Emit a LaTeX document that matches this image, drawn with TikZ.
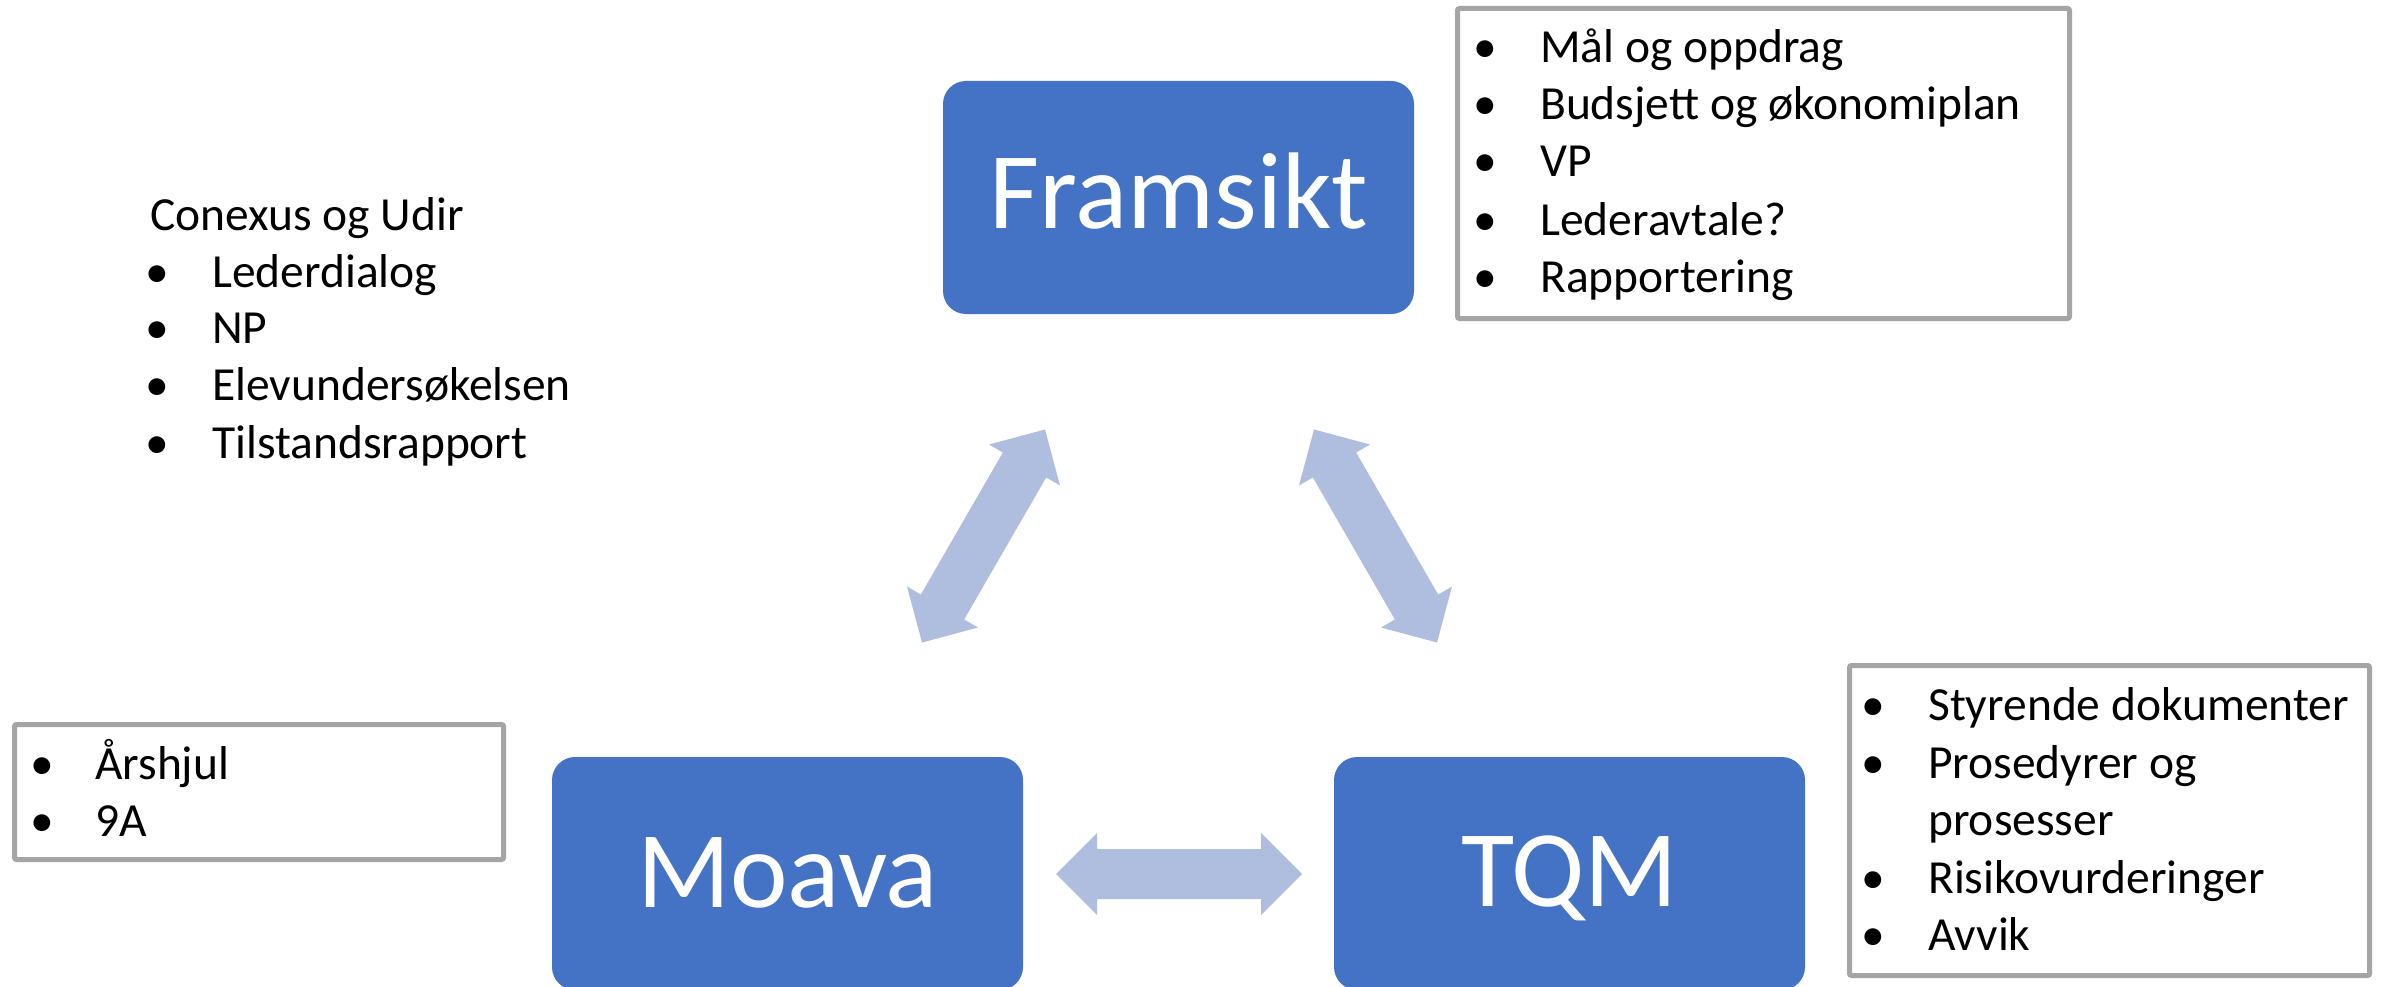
\documentclass[tikz,border=0pt]{standalone}
\usepackage{fontspec}
\setmainfont{Carlito}
\definecolor{boxblue}{HTML}{4472C4}
\definecolor{arrowblue}{HTML}{AFBDDF}
\definecolor{framegray}{HTML}{A5A5A5}
\newcommand\dblarrowpath{(-123,0) -- (-82,41) -- (-82,25) -- (82,25) -- (82,41) -- (123,0) -- (82,-41) -- (82,-25) -- (-82,-25) -- (-82,-41) -- cycle}
\tikzset{
  bluebox/.style={fill=boxblue, draw=none, rounded corners=23pt, minimum width=471pt, minimum height=233pt, inner sep=0pt},
  bigtext/.style={text=white, font=\fontsize{109}{131}\selectfont, anchor=base, inner sep=0pt},
  listbox/.style={draw=framegray, line width=5pt, fill=white, rounded corners=2pt, inner sep=0pt},
  itemtext/.style={font=\fontsize{47.5}{57}\selectfont, anchor=base west, inner sep=0pt},
  bulletdot/.style={font=\fontsize{47.5}{57}\selectfont, anchor=base, inner sep=0pt},
  blockarrow/.style={fill=arrowblue, draw=none},
}
\begin{document}
\begin{tikzpicture}[x=1pt, y=-1pt]
\useasboundingbox (0,0) rectangle (2387,987);
\clip (0,0) rectangle (2387,987);
\fill[white] (0,0) rectangle (2387,987);

% main boxes
\node[bluebox] (framsikt) at (1178.5,197.5) {};
\node[bluebox] (moava) at (787.5,873.5) {};
\node[bluebox] (tqm) at (1569.5,873.5) {};
\node[bigtext] (tframsikt) at (1178.5,229) {Framsikt};
\node[bigtext] (tmoava) at (787.5,907) {Moava};
\node[bigtext] (ttqm) at (1569.5,906) {TQM};

% block arrows
\coordinate (aleft) at (983.5,536);
\coordinate (aright) at (1375.5,536);
\coordinate (abottom) at (1179,874);
\begin{scope}[shift={(aleft)}, rotate=60]
  \fill[blockarrow] \dblarrowpath;
\end{scope}
\begin{scope}[shift={(aright)}, rotate=-60]
  \fill[blockarrow] \dblarrowpath;
\end{scope}
\begin{scope}[shift={(abottom)}]
  \fill[blockarrow] \dblarrowpath;
\end{scope}

% top-right list box
\node[listbox, minimum width=612pt, minimum height=310pt] (boxtr) at (1763.5,163.5) {};
\node[bulletdot] (btr1) at (1485,63) {•};
\node[itemtext] (ttr1) at (1540,63) {Mål og oppdrag};
\node[bulletdot] (btr2) at (1485,120) {•};
\node[itemtext] (ttr2) at (1540,120) {Budsjett og økonomiplan};
\node[bulletdot] (btr3) at (1485,177) {•};
\node[itemtext] (ttr3) at (1540,177) {VP};
\node[bulletdot] (btr4) at (1485,235) {•};
\node[itemtext] (ttr4) at (1540,235) {Lederavtale?};
\node[bulletdot] (btr5) at (1485,292) {•};
\node[itemtext] (ttr5) at (1540,292) {Rapportering};

% left free text
\node[itemtext] (tl0) at (150,230) {Conexus og Udir};
\node[bulletdot] (bl1) at (157,287) {•};
\node[itemtext] (tl1) at (212,287) {Lederdialog};
\node[bulletdot] (bl2) at (157,343) {•};
\node[itemtext] (tl2) at (212,343) {NP};
\node[bulletdot] (bl3) at (157,400) {•};
\node[itemtext] (tl3) at (212,400) {Elevundersøkelsen};
\node[bulletdot] (bl4) at (157,458) {•};
\node[itemtext] (tl4) at (212,458) {Tilstandsrapport};

% bottom-left list box
\node[listbox, minimum width=489pt, minimum height=135pt] (boxbl) at (259,792) {};
\node[bulletdot] (bbl1) at (42,779) {•};
\node[itemtext] (tbl1) at (95,779) {Årshjul};
\node[bulletdot] (bbl2) at (42,836) {•};
\node[itemtext] (tbl2) at (95,836) {9A};

% bottom-right list box
\node[listbox, minimum width=520pt, minimum height=310pt] (boxbr) at (2109.5,820.5) {};
\node[bulletdot] (bbr1) at (1873,720) {•};
\node[itemtext] (tbr1) at (1928,720) {Styrende dokumenter};
\node[bulletdot] (bbr2) at (1873,778) {•};
\node[itemtext] (tbr2) at (1928,778) {Prosedyrer og};
\node[itemtext] (tbr2b) at (1928,835) {prosesser};
\node[bulletdot] (bbr3) at (1873,893) {•};
\node[itemtext] (tbr3) at (1928,893) {Risikovurderinger};
\node[bulletdot] (bbr4) at (1873,950) {•};
\node[itemtext] (tbr4) at (1928,950) {Avvik};
\end{tikzpicture}
\end{document}
